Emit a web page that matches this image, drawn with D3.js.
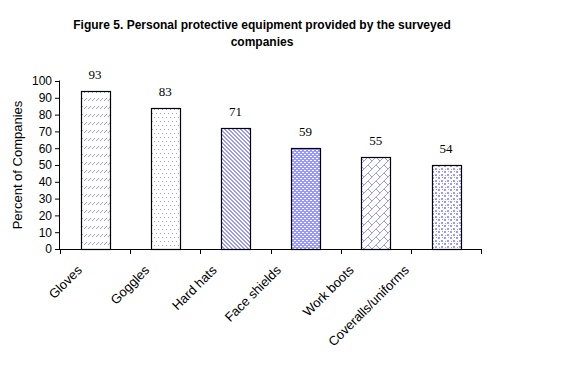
<!doctype html>
<html lang="en">
<head>
	<meta charset="utf-8">
	<title>Figure 5</title>
	<style>
		body { margin: 0; background: #fff; }
		svg { display: block; }
		text { font-family: "Liberation Sans", Arial, sans-serif; fill: #000; }
	</style>
</head>
<body>
	<svg id="Chart" width="567" height="392"></svg>

	<script src="https://cdn.jsdelivr.net/npm/d3@7/dist/d3.min.js"></script>
	<script>
		(function () {
			"use strict"

			// data
			var categories = [ "Gloves", "Goggles", "Hard hats", "Face shields", "Work boots", "Coveralls/uniforms" ];
			var values = [ 94, 84, 72, 60, 55, 50 ];        // bar heights as drawn
			var labels = [ "93", "83", "71", "59", "55", "54" ]; // data labels as printed
			var yTicks = [ 0, 10, 20, 30, 40, 50, 60, 70, 80, 90, 100 ];

			var svg = d3.select("#Chart");
			var margin = { left: 60, right: 86, top: 81, bottom: 143 };
			var width = 567 - margin.left - margin.right,
				height = 392 - margin.top - margin.bottom;

			var blue = "#9999ff";

			// fill patterns, each one a little pixel tile
			var defs = svg.append("defs");
			function pattern(id, w, h, bg, fg, px) {
				var p = defs.append("pattern")
					.attr("id", id)
					.attr("patternUnits", "userSpaceOnUse")
					.attr("width", w).attr("height", h);
				p.append("rect").attr("width", w).attr("height", h).attr("fill", bg);
				px.forEach(function (d) {
					p.append("rect")
						.attr("x", d[0]).attr("y", d[1])
						.attr("width", d[2] || 1).attr("height", d[3] || 1)
						.attr("fill", fg)
						.attr("shape-rendering", "crispEdges");
				});
			}
			pattern("p0", 4, 8, "#fff", blue, [ [0, 3], [1, 2], [2, 1] ]);
			pattern("p1", 4, 8, "#fff", blue, [ [0, 0], [2, 4] ]);
			pattern("p2", 4, 4, "#fff", blue, [ [0, 0, 2], [1, 1, 2], [2, 2, 2], [3, 3, 1], [0, 3, 1] ]);
			pattern("p3", 4, 4, blue, "#fff", [ [0, 1, 2], [2, 3, 2] ]);
			pattern("p4", 8, 8, "#fff", blue, [ [0, 7], [1, 6], [2, 5], [3, 4], [4, 3], [5, 2], [6, 1], [7, 0], [4, 4], [5, 5], [6, 6], [7, 7] ]);
			pattern("p5", 6, 6, "#fff", blue, [ [0, 0, 2, 2], [3, 3, 2, 2], [4, 0], [1, 4] ]);

			var x = d3.scaleBand().domain(categories).range([ 0, width ]).paddingInner(0.59).paddingOuter(0.295);
			var y = d3.scaleLinear().domain([ 0, 100 ]).range([ height, 0 ]);

			var g = svg.append("g").attr("transform", "translate(" + margin.left + "," + margin.top + ")");

			// y axis
			var yAxis = g.append("g")
				.call(d3.axisLeft(y).tickValues(yTicks).tickSize(5).tickPadding(3));
			yAxis.select(".domain").attr("stroke", "#000").attr("d", "M-0.5," + (height + 0.5) + "V-0.5");
			yAxis.selectAll("text").attr("font-size", 12).attr("font-family", "Liberation Sans, Arial, sans-serif");
			yAxis.selectAll(".tick line").attr("stroke", "#000");

			// x axis with ticks between categories
			var edges = d3.range(categories.length + 1).map(function (i) { return i * width / categories.length; });
			g.append("line")
				.attr("x1", -5).attr("x2", width)
				.attr("y1", height + 0.5).attr("y2", height + 0.5)
				.attr("stroke", "#000");
			g.selectAll(".xt").data(edges).enter().append("line")
				.attr("x1", function (d) { return Math.round(d) + 0.5; })
				.attr("x2", function (d) { return Math.round(d) + 0.5; })
				.attr("y1", height).attr("y2", height + 5)
				.attr("stroke", "#000");

			// bars
			g.selectAll(".bar").data(values).enter().append("rect")
				.attr("x", function (d, i) { return Math.round(x(categories[i])) + 0.5; })
				.attr("y", function (d) { return Math.round(y(d)) + 0.5; })
				.attr("width", Math.round(x.bandwidth()))
				.attr("height", function (d) { return Math.round(height - y(d)); })
				.attr("fill", function (d, i) { return "url(#p" + i + ")"; })
				.attr("stroke", "#000")
				.attr("stroke-width", 1.2);

			// data labels
			g.selectAll(".lbl").data(values).enter().append("text")
				.attr("x", function (d, i) { return x(categories[i]) + x.bandwidth() / 2; })
				.attr("y", function (d) { return y(d) - 12; })
				.attr("text-anchor", "middle")
				.attr("font-size", 13)
				.style("font-family", "'Liberation Serif', 'Times New Roman', serif")
				.text(function (d, i) { return labels[i]; });

			// rotated category labels
			g.selectAll(".cat").data(categories).enter().append("text")
				.attr("text-anchor", "end")
				.attr("font-size", 13)
				.text(function (d) { return d; })
				.attr("transform", function (d) {
					var L = this.getComputedTextLength();
					var cx = x(d) + x.bandwidth() / 2 - 0.5 * L * Math.SQRT1_2 + 2;
					return "translate(" + cx + "," + (height + 22) + ") rotate(-45)";
				});

			// y axis title
			svg.append("text")
				.attr("transform", "translate(22,165) rotate(-90)")
				.attr("text-anchor", "middle")
				.attr("font-size", 13)
				.text("Percent of Companies");

			// title
			var title = svg.append("text")
				.attr("text-anchor", "middle")
				.attr("font-size", 12)
				.attr("font-weight", "bold")
				.style("font-family", "'Liberation Sans Narrow', 'Arial Narrow', 'Liberation Sans', sans-serif");
			title.append("tspan").attr("x", 262).attr("y", 29)
				.text("Figure 5. Personal protective equipment provided by the surveyed");
			title.append("tspan").attr("x", 262).attr("y", 46)
				.text("companies");
		})();
	</script>
</body>
</html>
